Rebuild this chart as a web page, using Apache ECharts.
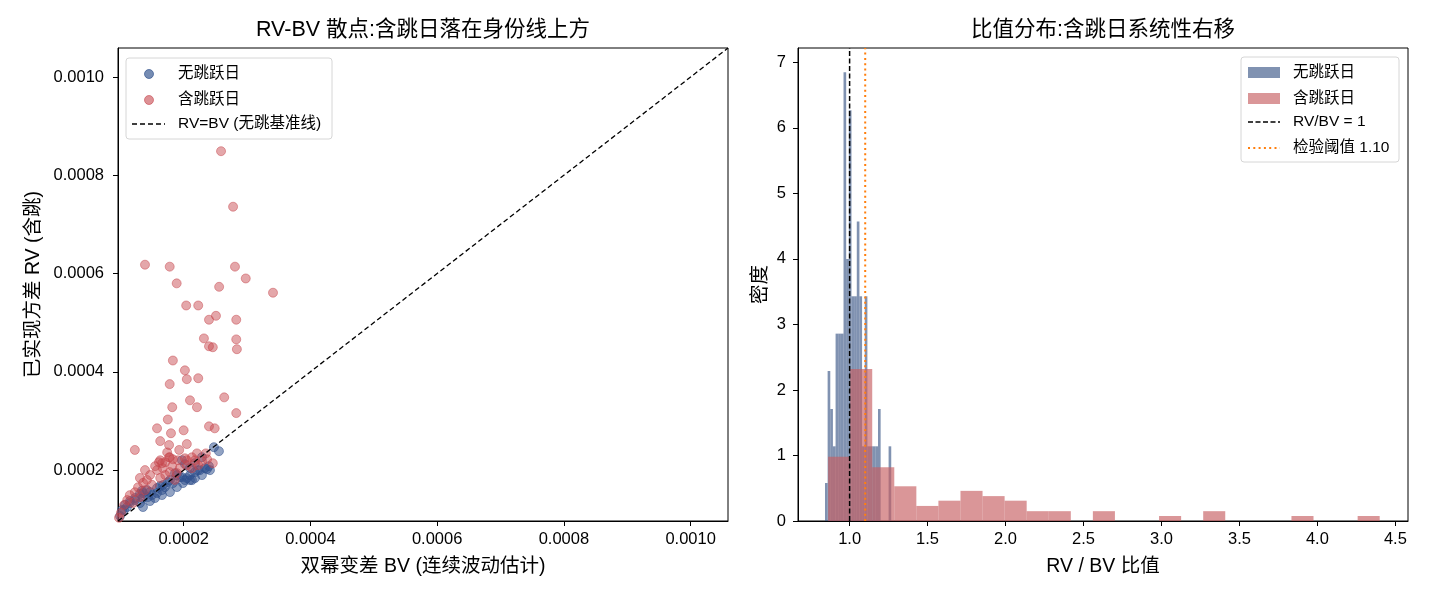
<!DOCTYPE html>
<html>
<head>
<meta charset="utf-8">
<script src="https://cdn.jsdelivr.net/npm/echarts@6.0.0/dist/echarts.min.js"></script>
<style>
html, body { margin: 0; padding: 0; background: #fff; }
#main { width: 1430px; height: 598px; }
</style>
</head>
<body>
<div id="main"></div>
<script>
// ---- 数据 ----
// 左图: [BV, RV]
var noJumpPts = [
    [247.8e-6, 246.6e-6], [255.7e-6, 238.5e-6], [236.8e-6, 201.9e-6], [228.9e-6, 226.3e-6], [225.7e-6, 199.9e-6],
    [217.8e-6, 195.8e-6], [209.9e-6, 189.8e-6], [202.1e-6, 179.6e-6], [194.2e-6, 185.7e-6], [178.4e-6, 179.6e-6],
    [170.5e-6, 165.4e-6], [165.8e-6, 159.3e-6], [157.9e-6, 153.2e-6], [150.0e-6, 149.2e-6], [143.7e-6, 145.1e-6],
    [135.8e-6, 143.1e-6], [131.1e-6, 152.0e-6], [134.2e-6, 158.0e-6], [123.2e-6, 139.0e-6], [115.3e-6, 137.0e-6],
    [107.4e-6, 128.9e-6], [105.9e-6, 118.7e-6], [213.1e-6, 179.6e-6], [217.8e-6, 214.1e-6], [197.3e-6, 220.2e-6],
    [202.1e-6, 212.1e-6], [209.9e-6, 204.0e-6], [233.6e-6, 204.0e-6], [239.9e-6, 208.0e-6], [189.4e-6, 189.8e-6],
    [197.3e-6, 185.7e-6], [205.2e-6, 183.7e-6], [175.3e-6, 175.5e-6], [167.4e-6, 169.5e-6], [157.9e-6, 163.4e-6],
    [146.9e-6, 155.3e-6], [135.8e-6, 153.2e-6], [123.2e-6, 143.1e-6], [131.1e-6, 132.9e-6], [115.3e-6, 132.9e-6],
    [102.7e-6, 118.7e-6], [135.8e-6, 124.8e-6], [146.9e-6, 137.0e-6], [154.7e-6, 143.1e-6], [165.8e-6, 149.2e-6],
    [178.4e-6, 155.3e-6], [189.4e-6, 165.4e-6], [198.9e-6, 173.5e-6], [209.9e-6, 179.6e-6], [217.8e-6, 183.7e-6],
    [228.9e-6, 189.8e-6], [99.6e-6, 106.5e-6], [142.1e-6, 159.3e-6], [186.3e-6, 193.8e-6], [162.6e-6, 167.4e-6],
    [222.6e-6, 199.9e-6], [241.5e-6, 199.9e-6], [183.1e-6, 173.5e-6], [110.6e-6, 124.8e-6]
];
var jumpPts = [
    [259e-6, 849e-6], [278e-6, 736e-6], [139e-6, 618e-6], [178e-6, 614e-6], [281e-6, 614e-6],
    [189e-6, 580e-6], [256e-6, 573e-6], [298e-6, 590e-6], [341e-6, 561e-6], [204e-6, 535e-6],
    [223e-6, 535e-6], [240e-6, 506e-6], [251e-6, 514e-6], [283e-6, 506e-6], [232e-6, 468e-6],
    [240e-6, 452e-6], [246e-6, 450e-6], [283e-6, 466e-6], [284e-6, 446e-6], [183e-6, 423e-6],
    [202e-6, 403e-6], [205e-6, 385e-6], [223e-6, 387e-6], [178e-6, 375e-6], [210e-6, 342e-6],
    [221e-6, 328e-6], [264e-6, 348e-6], [182e-6, 328e-6], [283e-6, 316e-6], [175e-6, 303e-6],
    [158e-6, 285e-6], [180e-6, 275e-6], [200e-6, 281e-6], [240e-6, 289e-6], [249e-6, 285e-6],
    [163e-6, 259e-6], [177e-6, 251e-6], [205e-6, 253e-6], [123e-6, 241e-6], [174e-6, 236e-6],
    [193e-6, 241e-6], [178e-6, 226e-6], [221e-6, 234e-6], [235e-6, 234e-6], [163e-6, 220e-6],
    [166e-6, 214e-6], [246e-6, 214e-6], [205e-6, 220e-6], [218e-6, 220e-6], [229e-6, 218e-6],
    [161e-6, 216e-6], [177e-6, 226e-6], [183e-6, 222e-6], [191e-6, 220e-6], [202e-6, 224e-6],
    [213e-6, 226e-6], [237e-6, 222e-6], [147e-6, 190e-6], [142e-6, 180e-6], [136e-6, 174e-6],
    [128e-6, 165e-6], [123e-6, 155e-6], [115e-6, 149e-6], [111e-6, 139e-6], [106e-6, 129e-6],
    [158e-6, 200e-6], [167e-6, 204e-6], [178e-6, 196e-6], [189e-6, 194e-6], [194e-6, 204e-6],
    [205e-6, 210e-6], [101e-6, 113e-6], [163e-6, 184e-6], [150e-6, 170e-6], [139e-6, 159e-6],
    [131e-6, 145e-6], [120e-6, 133e-6], [155e-6, 208e-6], [171e-6, 190e-6], [182e-6, 208e-6],
    [213e-6, 204e-6], [223e-6, 210e-6], [186e-6, 180e-6], [98e-6, 103e-6], [171e-6, 216e-6],
    [139e-6, 200e-6], [131e-6, 184e-6]
];
var scatterMin = 0.0000964, scatterMax = 0.001059;
var scatterTicks = [0.0002, 0.0004, 0.0006, 0.0008, 0.0010];

// 右图: 直方图 (密度)
var blueBinStart = 0.842, blueBinWidth = 0.017;
var blueDensity = [0.58, 2.29, 1.71, 1.14, 2.86, 2.86, 2.86, 6.85, 4.00, 6.27, 3.43, 3.43, 4.57,
                   3.43, 1.14, 3.43, 1.14, 1.14, 1.14, 1.14, 1.71, 0, 0, 0, 1.14];
var redBinStart = 0.862, redBinWidth = 0.1415;
var redDensity = [0.98, 2.32, 0.82, 0.53, 0.23, 0.31, 0.46, 0.38, 0.31, 0.15, 0.15, 0, 0.15,
                  0, 0, 0.076, 0, 0.15, 0, 0, 0, 0.076, 0, 0, 0.076];
var ratioMin = 0.669, ratioMax = 4.581, densityMax = 7.22;
var ratioTicks = [1.0, 1.5, 2.0, 2.5, 3.0, 3.5, 4.0, 4.5];
var densityTicks = [0, 1, 2, 3, 4, 5, 6, 7];
var baseLine = 1, threshold = 1.10;

var FONT = '"Liberation Sans", Arial, "Noto Sans CJK SC", sans-serif';
var BLUE_PT = 'rgba(47,80,140,0.66)', RED_PT = 'rgba(198,72,78,0.6)';
var BLUE_BAR = 'rgba(60,87,135,0.65)', RED_BAR = 'rgba(198,94,97,0.65)';

/*把分箱转换成 [起点, 终点, 高度]*/
function toBins(start, width, heights) {
    var out = [];
    for (var i = 0; i < heights.length; i++) {
        if (heights[i] > 0) out.push([start + i * width, start + (i + 1) * width, heights[i]]);
    }
    return out;
}
function histSeries(data, color) {
    return {
        type: 'custom', xAxisIndex: 1, yAxisIndex: 1, data: data,
        encode: { x: [0, 1], y: 2 },
        renderItem: function(params, api) {
            var p0 = api.coord([api.value(0), api.value(2)]);
            var p1 = api.coord([api.value(1), 0]);
            return { type: 'rect', shape: { x: p0[0], y: p0[1], width: p1[0] - p0[0], height: p1[1] - p0[1] },
                     style: { fill: color } };
        }
    };
}
function axisCommon() {
    return {
        axisLine: { show: true, onZero: false, lineStyle: { color: '#000', width: 1 } },
        axisTick: { show: true, length: 5, lineStyle: { color: '#000' } },
        axisLabel: { color: '#000', fontSize: 16.5, fontFamily: FONT, margin: 10 },
        splitLine: { show: false },
        nameTextStyle: { color: '#000', fontSize: 19.5, fontFamily: FONT }
    };
}
function mk(extra, base) {
    base = base || axisCommon();
    for (var k in extra) base[k] = extra[k];
    return base;
}

var leftX = mk({ gridIndex: 0, type: 'value', min: scatterMin, max: scatterMax,
    name: '双幂变差 BV (连续波动估计)', nameLocation: 'middle', nameGap: 36 });
leftX.axisTick.customValues = scatterTicks;
leftX.axisLabel.customValues = scatterTicks;
leftX.axisLabel.formatter = function(v) { return v.toFixed(4); };
var leftY = mk({ gridIndex: 0, type: 'value', min: scatterMin, max: scatterMax,
    name: '已实现方差 RV (含跳)', nameLocation: 'middle', nameGap: 75 });
leftY.axisTick.customValues = scatterTicks;
leftY.axisLabel.customValues = scatterTicks;
leftY.axisLabel.margin = 14;
leftY.axisLabel.formatter = function(v) { return v.toFixed(4); };

var rightX = mk({ gridIndex: 1, type: 'value', min: ratioMin, max: ratioMax,
    name: 'RV / BV 比值', nameLocation: 'middle', nameGap: 36 });
rightX.axisTick.customValues = ratioTicks;
rightX.axisLabel.customValues = ratioTicks;
rightX.axisLabel.formatter = function(v) { return v.toFixed(1); };
var rightY = mk({ gridIndex: 1, type: 'value', min: 0, max: densityMax,
    name: '密度', nameLocation: 'middle', nameGap: 28 });
rightY.axisTick.customValues = densityTicks;
rightY.axisLabel.customValues = densityTicks;
rightY.axisLabel.margin = 12;

function legendText(x, y, s) {
    return { type: 'text', x: x, y: y, style: { text: s, fontSize: 15.5, fontFamily: FONT, fill: '#000', verticalAlign: 'middle' } };
}

var myChart = echarts.init(document.getElementById('main'), null, { renderer: 'canvas' });
myChart.setOption({
    animation: false,
    backgroundColor: '#fff',
    grid: [
        { left: 118, top: 48, width: 610, height: 473, show: true, borderColor: '#000', borderWidth: 1 },
        { left: 798, top: 48, width: 610, height: 473, show: true, borderColor: '#000', borderWidth: 1 }
    ],
    xAxis: [leftX, rightX],
    yAxis: [leftY, rightY],
    series: [
        { type: 'scatter', xAxisIndex: 0, yAxisIndex: 0, data: noJumpPts, symbolSize: 9,
          itemStyle: { color: BLUE_PT, borderColor: BLUE_PT, borderWidth: 1 } },
        { type: 'scatter', xAxisIndex: 0, yAxisIndex: 0, data: jumpPts, symbolSize: 9,
          itemStyle: { color: RED_PT, borderColor: RED_PT, borderWidth: 1 } },
        { type: 'line', xAxisIndex: 0, yAxisIndex: 0, data: [[scatterMin, scatterMin], [scatterMax, scatterMax]],
          symbol: 'none', lineStyle: { color: '#000', width: 1.3, type: [5, 3] } },
        histSeries(toBins(blueBinStart, blueBinWidth, blueDensity), BLUE_BAR),
        histSeries(toBins(redBinStart, redBinWidth, redDensity), RED_BAR),
        { type: 'line', xAxisIndex: 1, yAxisIndex: 1, data: [[baseLine, 0], [baseLine, densityMax]],
          symbol: 'none', z: 5, lineStyle: { color: '#000', width: 1.5, type: [5, 2.5] } },
        { type: 'line', xAxisIndex: 1, yAxisIndex: 1, data: [[threshold, 0], [threshold, densityMax]],
          symbol: 'none', z: 5, lineStyle: { color: '#ff7f0e', width: 2, type: [2, 3.3] } }
    ],
    graphic: [
        { type: 'text', x: 423, y: 30, style: { text: 'RV-BV 散点:含跳日落在身份线上方', fontSize: 21.5, fontFamily: FONT,
          fill: '#000', align: 'center', verticalAlign: 'middle' } },
        { type: 'text', x: 1103, y: 30, style: { text: '比值分布:含跳日系统性右移', fontSize: 21.5, fontFamily: FONT,
          fill: '#000', align: 'center', verticalAlign: 'middle' } },
        // 左图图例
        { type: 'group', z: 100, children: [
            { type: 'rect', shape: { x: 126, y: 58, width: 206, height: 81, r: 3 },
              style: { fill: 'rgba(255,255,255,0.8)', stroke: '#d6d6d6', lineWidth: 1 } },
            { type: 'circle', shape: { cx: 149, cy: 74, r: 4.5 }, style: { fill: BLUE_PT, stroke: BLUE_PT } },
            legendText(178, 74, '无跳跃日'),
            { type: 'circle', shape: { cx: 149, cy: 100, r: 4.5 }, style: { fill: RED_PT, stroke: RED_PT } },
            legendText(178, 100, '含跳跃日'),
            { type: 'line', shape: { x1: 132, y1: 124, x2: 165, y2: 124 }, style: { stroke: '#000', lineWidth: 1.3, lineDash: [5, 3] } },
            legendText(178, 124, 'RV=BV (无跳基准线)')
        ] },
        // 右图图例
        { type: 'group', z: 100, children: [
            { type: 'rect', shape: { x: 1241, y: 57, width: 158, height: 105, r: 3 },
              style: { fill: 'rgba(255,255,255,0.8)', stroke: '#d6d6d6', lineWidth: 1 } },
            { type: 'rect', shape: { x: 1248, y: 67, width: 32, height: 11 }, style: { fill: BLUE_BAR } },
            legendText(1293, 73, '无跳跃日'),
            { type: 'rect', shape: { x: 1248, y: 93, width: 32, height: 11 }, style: { fill: RED_BAR } },
            legendText(1293, 99, '含跳跃日'),
            { type: 'line', shape: { x1: 1248, y1: 122, x2: 1280, y2: 122 }, style: { stroke: '#000', lineWidth: 1.5, lineDash: [5, 2.5] } },
            legendText(1293, 122, 'RV/BV = 1'),
            { type: 'line', shape: { x1: 1248, y1: 148, x2: 1280, y2: 148 }, style: { stroke: '#ff7f0e', lineWidth: 2, lineDash: [2, 3.3] } },
            legendText(1293, 148, '检验阈值 1.10')
        ] }
    ]
});
</script>
</body>
</html>
